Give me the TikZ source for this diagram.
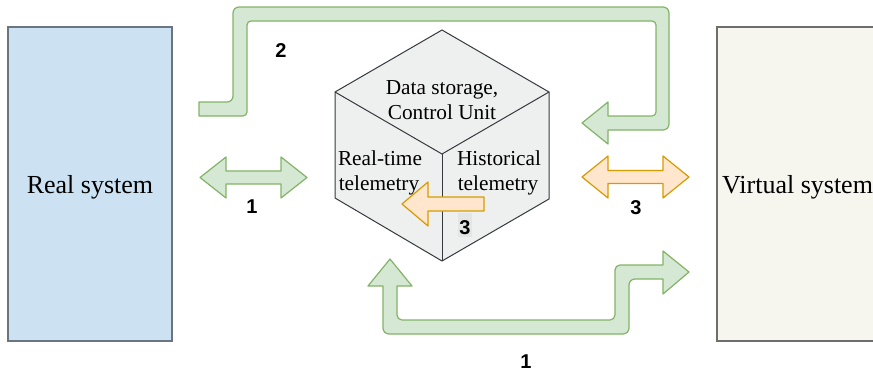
\documentclass[tikz,border=0pt]{standalone}
\usepackage{fontspec}
\setmainfont{Liberation Serif}
\newfontfamily\numfont{Liberation Sans}
\definecolor{realfill}{HTML}{CCE1F2}
\definecolor{realline}{HTML}{6B7582}
\definecolor{virtfill}{HTML}{F6F5EE}
\definecolor{virtline}{HTML}{6E6E6E}
\definecolor{cubefill}{HTML}{EEEFEF}
\definecolor{cubeline}{HTML}{36393D}
\definecolor{gfill}{HTML}{D5E8D4}
\definecolor{gline}{HTML}{82B366}
\definecolor{ofill}{HTML}{FFE6CC}
\definecolor{oline}{HTML}{D79B00}
\definecolor{lblbg}{HTML}{E4E5E5}
\tikzset{
  sysbox/.style={line width=1.6pt},
  cubeface/.style={draw=cubeline, fill=cubefill, line width=1pt, line join=miter},
  cubeedge/.style={draw=cubeline, line width=1pt},
  greenarrow/.style={draw=gline, fill=gfill, line width=1.2pt, line join=round},
  orangearrow/.style={draw=oline, fill=ofill, line width=1.2pt, line join=round},
  bigtext/.style={font=\fontsize{26}{30}\selectfont, inner sep=0pt, anchor=base},
  cubetext/.style={font=\fontsize{21.3}{25}\selectfont, inner sep=0pt, anchor=base},
  numlabel/.style={font=\numfont\bfseries\fontsize{20}{24}\selectfont, inner sep=0pt, anchor=base},
}
\begin{document}
\begin{tikzpicture}[x=1pt,y=-1pt]
\useasboundingbox (0,0) rectangle (873,373);
% systems
\draw[sysbox, draw=realline, fill=realfill] (8,27) rectangle (172,341);
\draw[sysbox, draw=virtline, fill=virtfill] (717,27) rectangle (895,341);
\node[bigtext] (realsys) at (90,193) {Real system};
\node[bigtext, anchor=base west] (virtsys) at (722,193) {Virtual system};
% cube
\coordinate (ctop) at (442,30);
\coordinate (cur) at (549,92);
\coordinate (clr) at (549,199);
\coordinate (cbot) at (442,261);
\coordinate (cll) at (335,198);
\coordinate (cul) at (335,92);
\coordinate (cmid) at (442,154);
\path[cubeface] (ctop) -- (cur) -- (clr) -- (cbot) -- (cll) -- (cul) -- cycle;
\draw[cubeedge] (cul) -- (cmid) -- (cur);
\draw[cubeedge] (cmid) -- (cbot);
% orange arrow inside cube
\path[orangearrow] (484,197) -- (428,197) -- (428,182) -- (402,204) -- (428,226) -- (428,211) -- (484,211) -- cycle;
\node[cubetext] (ds1) at (442,94) {Data storage,};
\node[cubetext] (ds2) at (442,119) {Control Unit};
\node[cubetext] (rt1) at (380,165) {Real-time};
\node[cubetext] (rt2) at (379,190) {telemetry};
\node[cubetext] (ht1) at (499,165) {Historical};
\node[cubetext] (ht2) at (498,190) {telemetry};
% label 3 in cube with gray background
\fill[lblbg] (458,213) rectangle (472,237);
\node[numlabel] (n3in) at (465,234) {3};
% arrow 1 (left double)
\path[greenarrow] (200,177.5) -- (226,157) -- (226,171) -- (281,171) -- (281,157) -- (307,177.5)
  -- (281,198) -- (281,184) -- (226,184) -- (226,198) -- cycle;
% arrow 3 (orange double)
\path[orangearrow] (582,177) -- (608,156) -- (608,170.5) -- (663,170.5) -- (663,156) -- (689,177)
  -- (663,198) -- (663,183.5) -- (608,183.5) -- (608,198) -- cycle;
% arrow 2 (top)
\path[greenarrow] (199,102) [rounded corners=6pt] -- (233,102) -- (233,7) -- (669,7) -- (669,130)
  [sharp corners] -- (608,130) -- (608,144) -- (582,123) -- (608,102) -- (608,116)
  [rounded corners=4pt] -- (656,116) -- (656,21) -- (247,21) -- (247,116) [sharp corners] -- (199,116) -- cycle;
% arrow 1 (bottom)
\path[greenarrow] (390,259) -- (412,286) -- (397,286) [rounded corners=5pt] -- (397,320) -- (615,320)
  -- (615,265) [sharp corners] -- (663,265) -- (663,251) -- (689,272) -- (663,294) -- (663,279)
  [rounded corners=6pt] -- (629,279) -- (629,334) -- (383,334) [sharp corners] -- (383,286) -- (368,286) -- cycle;
% number labels
\node[numlabel] (n1a) at (252,213) {1};
\node[numlabel] (n3) at (636,214) {3};
\node[numlabel] (n2) at (281,57) {2};
\node[numlabel] (n1b) at (526,368) {1};
\end{tikzpicture}
\end{document}
